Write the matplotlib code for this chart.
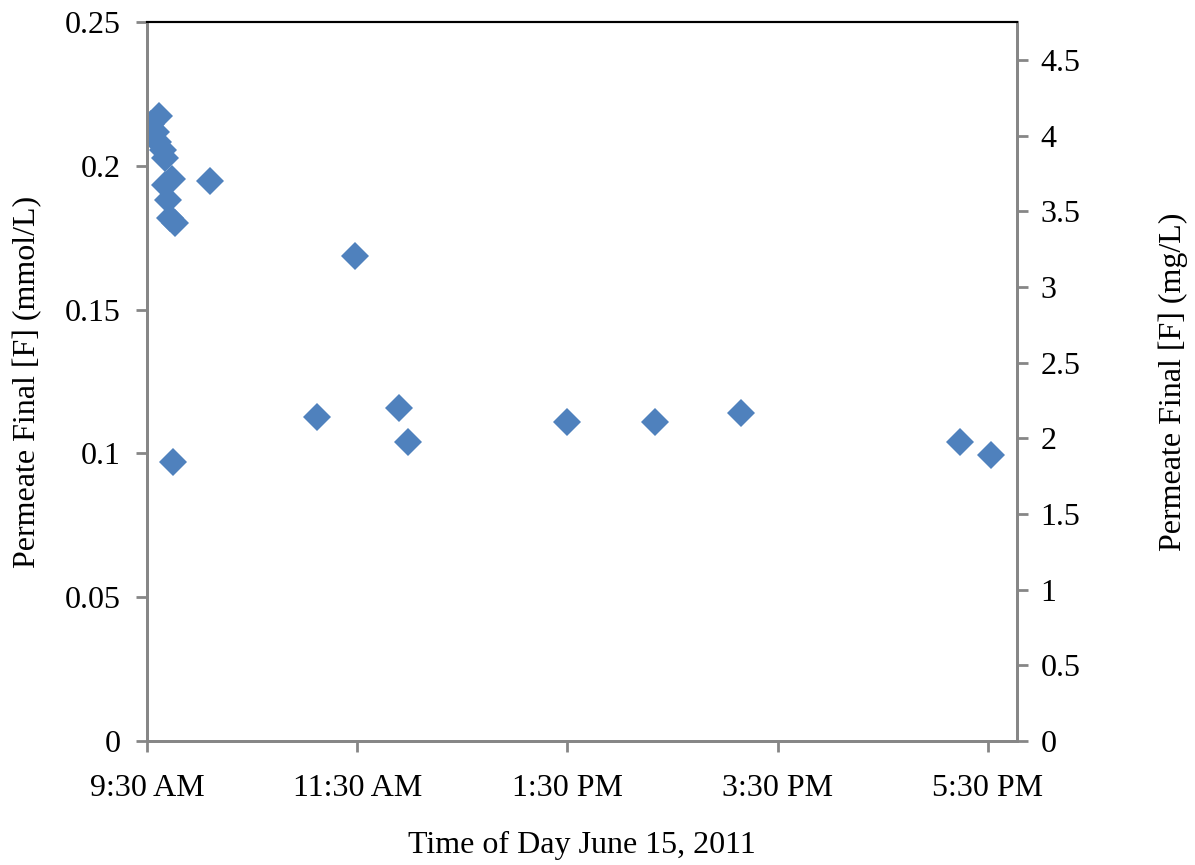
import numpy as np
import matplotlib.pyplot as plt
from matplotlib.ticker import FuncFormatter, FixedLocator

# sample times (h:mm, 24 h clock) and permeate fluoride (mmol/L)
times = ['9:32', '9:37', '9:35', '9:36', '9:39', '9:40', '9:44', '9:40', '9:42',
         '9:43', '9:46', '10:06', '9:45', '11:07', '11:29', '11:54', '11:59',
         '13:30', '14:20', '15:09', '17:14', '17:32']
fluoride_mmol = [0.2145, 0.2173, 0.2118, 0.2083, 0.2055, 0.2027, 0.1954, 0.1933, 0.1881,
                 0.1818, 0.1801, 0.1947, 0.0970, 0.1127, 0.1686, 0.1158, 0.1040,
                 0.1109, 0.1109, 0.1140, 0.1040, 0.0994]
tick_hours = [9.5, 11.5, 13.5, 15.5, 17.5]
F_MOLAR_MASS = 19.0  # g/mol, for the mg/L axis


def to_hours(t):
    h, m = t.split(':')
    return int(h) + int(m) / 60.0


def hour_label(x, pos=None):
    h = int(x)
    m = int(round((x - h) * 60))
    suffix = 'AM' if h < 12 else 'PM'
    h12 = h if h <= 12 else h - 12
    return '%d:%02d %s' % (h12, m, suffix)


plt.rcParams['font.family'] = ['Liberation Serif', 'DejaVu Serif']
plt.rcParams['font.size'] = 23

hours = np.array([to_hours(t) for t in times])
vals = np.array(fluoride_mmol)

fig = plt.figure(figsize=(11.95, 8.65), dpi=100)
ax = fig.add_axes([147 / 1195, 1 - 741 / 865, 870 / 1195, 719 / 865])
ax2 = ax.twinx()

ax.plot(hours, vals, linestyle='none', marker='D', markersize=14.3,
        color='#4F81BD', markeredgewidth=0)

grey = '#868686'
ax.set_xlim(9.5, 9.5 + 870 / 105.1)
ax.set_ylim(0, 0.25)
ax.xaxis.set_major_locator(FixedLocator(tick_hours))
ax.xaxis.set_major_formatter(FuncFormatter(hour_label))
ax.set_yticks([0, 0.05, 0.1, 0.15, 0.2, 0.25])
ax.yaxis.set_major_formatter(FuncFormatter(lambda v, p: '%g' % v))

ax2.set_ylim(0, 0.25 * F_MOLAR_MASS)
ax2.set_yticks(np.arange(0, 4.6, 0.5))
ax2.yaxis.set_major_formatter(FuncFormatter(lambda v, p: '%g' % v))

for a in (ax, ax2):
    for side in ('left', 'right', 'bottom'):
        a.spines[side].set_color(grey)
        a.spines[side].set_linewidth(2)
    a.spines['top'].set_color('black')
    a.spines['top'].set_linewidth(1.5)
    a.tick_params(direction='out', length=8, width=2, color=grey,
                  labelcolor='black', labelsize=23, pad=11)

ax2.tick_params(pad=9)
ax.tick_params(axis='x', pad=16)

ax.set_xlabel('Time of Day June 15, 2011', fontsize=23, labelpad=20)
ax.set_ylabel('Permeate Final [F] (mmol/L)', fontsize=23, labelpad=16)
ax2.set_ylabel('Permeate Final [F] (mg/L)', fontsize=23, labelpad=56)

fig.savefig('out.png', dpi=100)
